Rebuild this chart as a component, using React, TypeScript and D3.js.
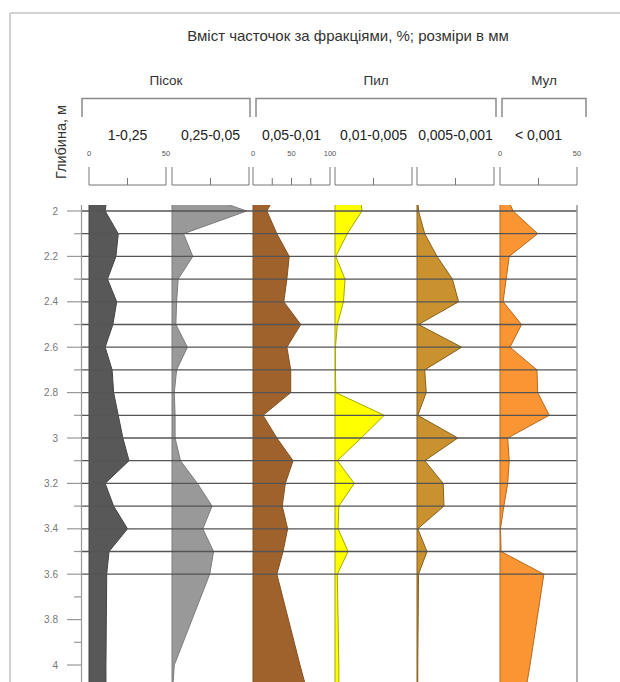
import React from 'react';
import * as d3 from 'd3';

// sample depths, m
const depths = [1.9, 2.0, 2.1, 2.2, 2.3, 2.4, 2.5, 2.6, 2.7, 2.8, 2.9, 3.0, 3.1, 3.2, 3.3, 3.4, 3.5, 3.6, 4.0, 4.1];

// fraction content, %
const sand1 = [12.5, 10.5, 19, 17.5, 12, 18, 15.5, 10.5, 15, 16, 19, 22, 26, 10.5, 16, 25, 13, 11.5, 11, 11];
const sand2 = [6, 48.5, 7.5, 13.5, 4, 3, 2.5, 10, 3, 1.5, 2, 2, 5.5, 16.5, 26, 20, 27, 24.5, 1.5, 0.5];
const silt1 = [34, 18, 31, 47, 44, 40, 62, 44, 49, 49, 13, 31, 52, 42, 38, 45, 39, 31, 61, 69];
const silt2 = [16, 17.5, 8, 0.5, 6.5, 5.5, 1.5, 0.3, 0.3, 0.5, 32, 17, 1.5, 12.5, 2.5, 2, 8.5, 1.5, 2.5, 2.5];
const silt3 = [0, 1, 5, 13, 23, 27, 1, 29, 5, 6, 0.5, 26.5, 5, 17, 17.5, 0.5, 6.5, 1, 0.5, 0.5];
const clay = [2, 8.5, 24.5, 6, 4, 2, 14, 6.5, 24, 24.5, 32, 5, 6, 5, 2.5, 0.3, 0.7, 28.5, 19.5, 17];

const fractionLabels = ['1-0,25', '0,25-0,05', '0,05-0,01', '0,01-0,005', '0,005-0,001', '< 0,001'];
const fractionMax = [50, 50, 100, 50, 50, 50];
const scaleLabels = [[0, 50], [], [0, 50, 100], [], [], [0, 50]];
const groupLabels = ['Пісок', 'Пил', 'Мул'];
const depthTicks = [2, 2.2, 2.4, 2.6, 2.8, 3, 3.2, 3.4, 3.6, 3.8, 4];

const title = 'Вміст часточок за фракціями, %; розміри в мм';
const yTitle = 'Глибина, м';

const series = [sand1, sand2, silt1, silt2, silt3, clay];
const fills = ['#585858', '#999999', '#a0622c', '#ffff00', '#c9922f', '#fa9534'];
const strokes = ['#454545', '#7d7d7d', '#86511f', '#a8a800', '#86611c', '#b8691f'];

const width = 620;
const height = 682;
const colX = [89, 172, 253, 335, 417, 500];
const colW = 77;
const groupSpans = [[82, 250], [256, 496], [502, 586]];
const plotTop = 205;
const axisX = 81.5;
const rightX = 577;

const y = d3.scaleLinear().domain([2, 4]).range([211, 665]);
const gridDepths = depths.filter(d => d >= 2 && d <= 3.6);
const minorTicks = d3.range(20, 42).map(d => d / 10);

const font = '"Liberation Sans", Arial, sans-serif';

const App = () => {
  const xs = colX.map((x0, i) => d3.scaleLinear().domain([0, fractionMax[i]]).range([x0, x0 + colW]));

  return (
    <svg width={width} height={height} style={{ position: 'absolute', left: 0, top: 0, background: '#fff' }}
      fontFamily={font}>
      <defs>
        <clipPath id="plotClip">
          <rect x={0} y={plotTop} width={width} height={height - plotTop} />
        </clipPath>
      </defs>

      {/* frame */}
      <line x1={10} x2={width} y1={13} y2={13} stroke="#d2d2d2" strokeWidth={2} />
      <line x1={10} x2={10} y1={13} y2={height} stroke="#d2d2d2" strokeWidth={2} />

      <text x={348} y={41} textAnchor="middle" fontSize={15} fill="#333">{title}</text>

      {groupSpans.map(([a, b], i) => (
        <g key={i}>
          <text x={(a + b) / 2} y={85} textAnchor="middle" fontSize={13.5} fill="#333">{groupLabels[i]}</text>
          <path d={`M${a},117V98.5H${b}V117`} fill="none" stroke="#8a8a8a" strokeWidth={1.5} />
        </g>
      ))}

      <text transform="translate(66,142) rotate(-90)" textAnchor="middle" fontSize={14.5} fill="#333">{yTitle}</text>

      {/* column headers and scale bars */}
      {xs.map((x, i) => (
        <g key={i}>
          <text x={colX[i] + colW / 2} y={140} textAnchor="middle" fontSize={14} fill="#222">{fractionLabels[i]}</text>
          {scaleLabels[i].map(v => (
            <text key={v} x={x(v)} y={156} textAnchor="middle" fontSize={7.5} fill="#555">{v}</text>
          ))}
          <line x1={x(0)} x2={x(fractionMax[i])} y1={185} y2={185} stroke="#777" />
          {d3.range(0, fractionMax[i] + 1, 25).map(v => {
            const end = v === 0 || v === fractionMax[i];
            return <line key={v} x1={x(v)} x2={x(v)} y1={end ? 167 : 178} y2={185} stroke="#777" />;
          })}
        </g>
      ))}

      {/* profiles */}
      <g clipPath="url(#plotClip)">
        {series.map((vals, i) => {
          const area = d3.area<number>()
            .x0(xs[i](0))
            .x1(v => xs[i](v))
            .y((_, j) => y(depths[j]));
          return <path key={i} d={area(vals) || ''} fill={fills[i]} stroke={strokes[i]} strokeWidth={1} />;
        })}
        {gridDepths.map(d => (
          <line key={d} x1={axisX} x2={rightX} y1={y(d)} y2={y(d)} stroke="#555" strokeWidth={1.3} />
        ))}
        <line x1={rightX} x2={rightX} y1={plotTop} y2={height} stroke="#999" strokeWidth={1.5} />
      </g>

      {/* depth axis */}
      <line x1={axisX} x2={axisX} y1={plotTop} y2={height} stroke="#999" strokeWidth={1.2} />
      {minorTicks.map(d => {
        const major = depthTicks.some(t => Math.abs(t - d) < 1e-6);
        return <line key={d} x1={major ? 67 : 74} x2={axisX} y1={y(d)} y2={y(d)} stroke="#999" strokeWidth={1.2} />;
      })}
      {depthTicks.map(d => (
        <text key={d} x={58} y={y(d)} dy="0.35em" textAnchor="end" fontSize={10} fill="#777">{+d.toFixed(1)}</text>
      ))}
    </svg>
  );
};

export default App;
